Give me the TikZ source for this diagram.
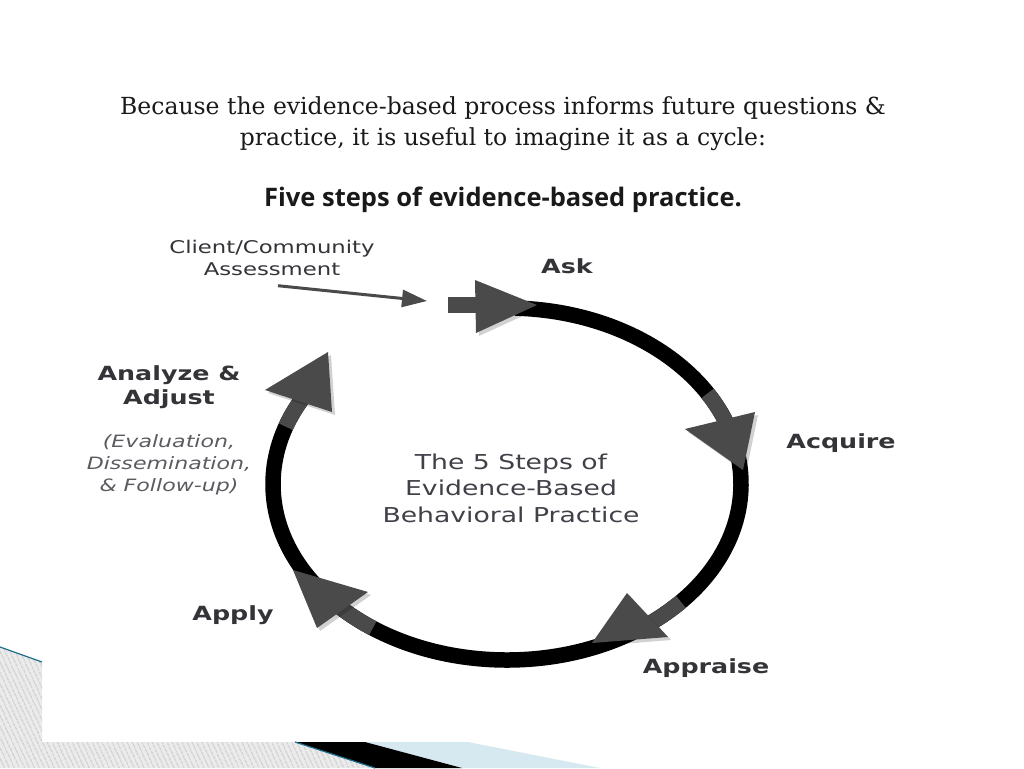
\documentclass[tikz,border=0pt]{standalone}
\usepackage{fontspec}
\setmainfont{DejaVu Serif}
\newfontfamily\diagfont[FakeStretch=1.3]{DejaVu Sans}
\newfontfamily\headfont{Open Sans}
\usetikzlibrary{positioning, arrows.meta, shadows, patterns.meta}
\definecolor{headgray}{HTML}{4A4A4A}
\definecolor{labelgray}{HTML}{333338}
\definecolor{notegray}{HTML}{5A5A60}
\definecolor{coregray}{HTML}{404048}
\definecolor{stripeteal}{HTML}{1F6F8B}
\definecolor{paleblue}{HTML}{D6E8F0}
\tikzset{
    ring/.style={line width=15.5pt, black}, % the black loop of the cycle
    shaft/.style={line width=15.5pt, headgray}, % grey piece of loop in front of a head
    head/.style={fill=headgray, drop shadow={shadow xshift=3pt, shadow yshift=-3pt, opacity=.18, fill=black}},
    stage/.style={font=\diagfont\bfseries\fontsize{19.5}{24.5}\selectfont, text=labelgray, inner sep=0pt, align=center},
    note/.style={font=\diagfont\itshape\fontsize{17}{22}\selectfont, text=notegray, inner sep=0pt, align=center},
    core/.style={font=\diagfont\fontsize{20.5}{26.5}\selectfont, text=coregray, inner sep=0pt, align=center},
    client/.style={font=\diagfont\fontsize{17.5}{21.5}\selectfont, text=labelgray, inner sep=0pt, align=center},
    feed/.style={line width=3pt, draw=headgray, -{Triangle[length=25pt, width=17pt]}},
    lead/.style={font=\fontsize{23.5}{31}\selectfont, text=black!90, inner sep=0pt, align=center},
    caption/.style={font=\headfont\bfseries\fontsize{25.5}{30}\selectfont, text=black!90, inner sep=0pt},
}

\begin{document}
\begin{tikzpicture}[x=1pt, y=-1pt]
    \useasboundingbox (0,0) rectangle (1024,768);

    % slide decoration, bottom left
    \path[fill=gray!16, postaction={pattern={Lines[angle=-65, distance=4pt, line width=.8pt]}, pattern color=gray!65}]
        (0,647) -- (42,662) -- (42,742) -- (295,742) -- (375,768) -- (0,768) -- cycle;
    \fill[paleblue] (365,742) -- (468,742) -- (600,768) -- (462,768) -- cycle;
    \fill[black] (295,742) -- (365,742) -- (462,768) -- (375,768) -- cycle;
    \draw[stripeteal, line width=1.2pt] (0,647) -- (42,662);
    \draw[stripeteal, line width=1.2pt] (295,742) -- (375,768);

    % the cycle
    \coordinate (ctr) at (507,484);
    \draw[ring] (ctr) ++(272:234 and 176) arc[start angle=272, end angle=572, x radius=234, y radius=176];
    \foreach \a in {329, 42, 125, 199}
        \draw[shaft] (ctr) ++(\a:234 and 176) arc[start angle=\a, delta angle=11, x radius=234, y radius=176];
    \draw[shaft] (448,305) -- (478,305);
    \fill[head] (475,280) -- (537,305) -- (476,333) -- cycle;
    \fill[head] (685,429) -- (755,412) -- (743,470) -- cycle;
    \fill[head] (627,593) -- (668,637) -- (592,643) -- cycle;
    \fill[head] (368,592) -- (317,628) -- (293,570) -- cycle;
    \fill[head] (265,390) -- (332,412) -- (328,352) -- cycle;

    % labels
    \node[stage, anchor=base] (ask) at (567,273) {Ask};
    \node[stage, anchor=base] (acquire) at (841,448) {Acquire};
    \node[stage, anchor=base] (appraise) at (706,673) {Appraise};
    \node[stage, anchor=base] (apply) at (233,620) {Apply};
    \node[stage] (analyze) at (169,387) {Analyze \&\\Adjust};
    \node[note, below=25pt of analyze] (followup) {(Evaluation,\\Dissemination,\\\& Follow-up)};
    \node[core] (core) at (511,488) {The 5 Steps of\\Evidence-Based\\Behavioral Practice};
    \node[client] (client) at (272,258) {Client/Community\\Assessment};
    \coordinate (entry) at (427,301);
    \draw[feed] ([shift={(6,10)}]client.south) -- (entry);

    % slide text
    \node[lead] (lead) at (503,124) {Because the evidence-based process informs future questions \&\\practice, it is useful to imagine it as a cycle:};
    \node[caption, anchor=base] (caption) at (503,206) {Five steps of evidence-based practice.};
\end{tikzpicture}
\end{document}
